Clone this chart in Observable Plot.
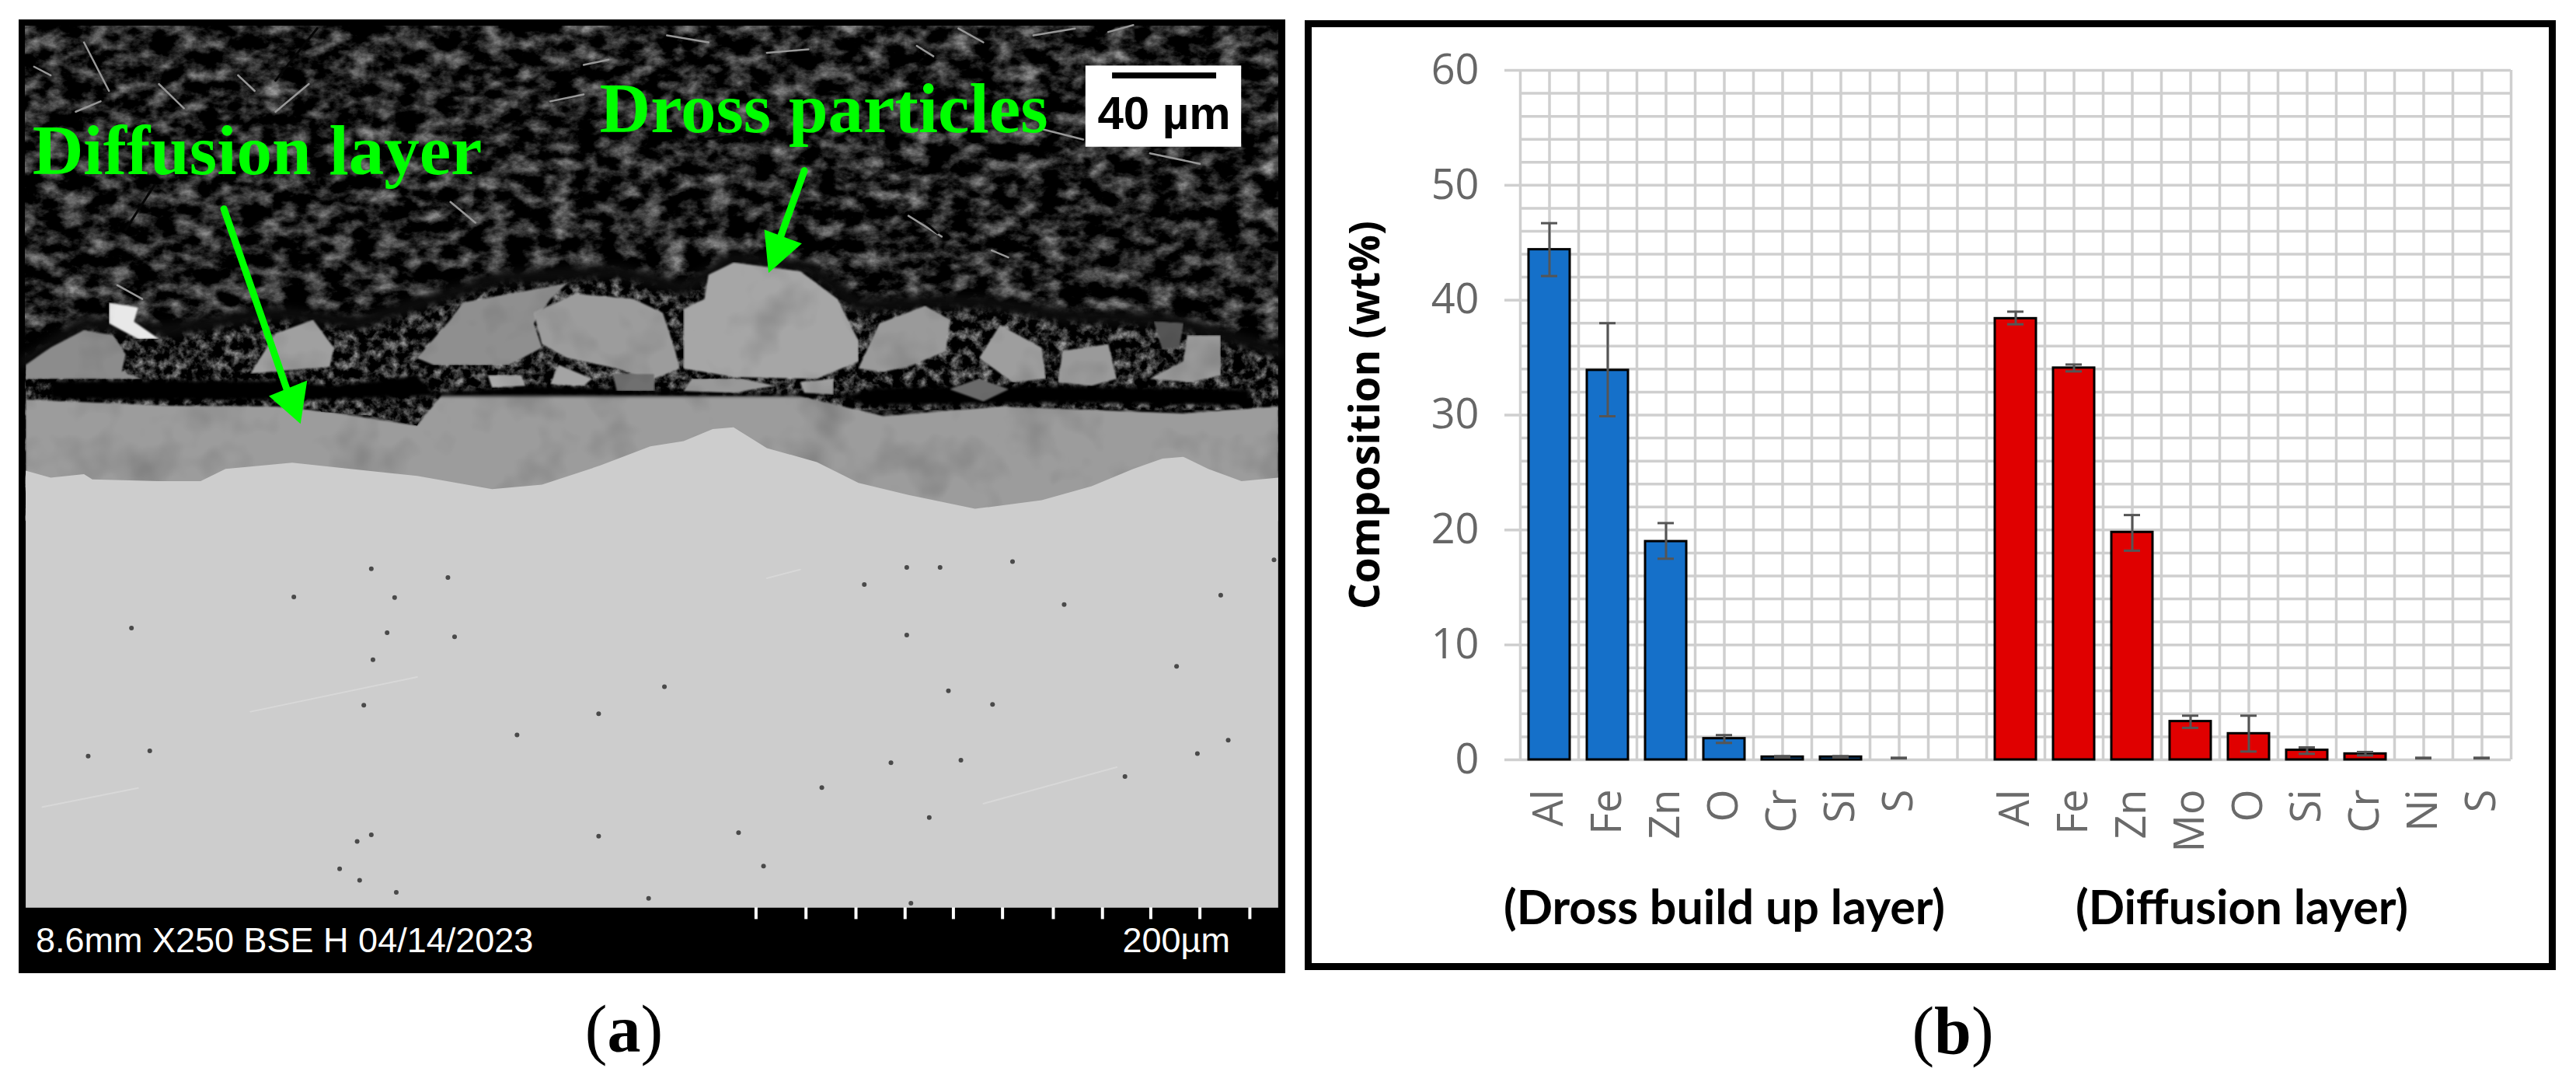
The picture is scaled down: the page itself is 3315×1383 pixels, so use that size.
<!DOCTYPE html>
<html>
<head>
<meta charset="utf-8">
<script src="https://cdn.jsdelivr.net/npm/d3@7"></script>
<script src="https://cdn.jsdelivr.net/npm/@observablehq/plot@0.6"></script>
<style>
html,body{margin:0;padding:0;background:#fff;width:3315px;height:1383px;overflow:hidden}
#page{position:relative;width:3315px;height:1383px}
#a,#b,#frameB,.cap{position:absolute}
#a{left:24px;top:25px}
#b{left:1679px;top:26px}
#frameB{left:1679px;top:26px;width:1610px;height:1222px;box-sizing:border-box;border:9px solid #000;pointer-events:none}
.cap{font-family:"Liberation Serif",serif;font-size:86px;line-height:1;color:#000;transform:translateX(-50%)}
</style>
</head>
<body>
<svg width="0" height="0" style="position:absolute">
  <filter id="resinGrain" x="0" y="0" width="100%" height="100%" color-interpolation-filters="sRGB">
    <feTurbulence type="fractalNoise" baseFrequency="0.035 0.05" numOctaves="5" seed="11"/>
    <feColorMatrix values="1.15 0 0 0 -0.46  1.15 0 0 0 -0.46  1.15 0 0 0 -0.46  0 0 0 0 1"/>
  </filter>
  <filter id="mottle" x="0" y="0" width="100%" height="100%" color-interpolation-filters="sRGB">
    <feTurbulence type="fractalNoise" baseFrequency="0.08" numOctaves="4" seed="5"/>
    <feColorMatrix values="1.3 0 0 0 -0.52  1.3 0 0 0 -0.52  1.3 0 0 0 -0.52  0 0 0 0 1"/>
    <feComposite in2="SourceAlpha" operator="in"/>
  </filter>
  <filter id="shade" x="0" y="0" width="100%" height="100%" color-interpolation-filters="sRGB">
    <feTurbulence type="fractalNoise" baseFrequency="0.015" numOctaves="3" seed="3" result="n"/>
    <feColorMatrix in="n" values="0.4 0 0 0 0.8  0.4 0 0 0 0.8  0.4 0 0 0 0.8  0 0 0 0 1" result="g"/>
    <feBlend in="SourceGraphic" in2="g" mode="multiply" result="m"/>
    <feComposite in="m" in2="SourceAlpha" operator="in"/>
    <feGaussianBlur stdDeviation="1.2"/>
  </filter>
</svg>
<div id="page">
  <div id="a"></div>
  <div id="b"></div>
  <div id="frameB"></div>
  <div class="cap" style="left:803px;top:1281px">(<b>a</b>)</div>
  <div class="cap" style="left:2513px;top:1283px">(<b>b</b>)</div>
</div>
<script>
// ---------- Panel (b): composition data ----------
const drossElements = ["Al","Fe","Zn","O","Cr","Si","S"];
const drossValues   = [44.4,33.9,19.0,1.85,0.25,0.25,0.03];
const drossHigh     = [46.7,38.0,20.6,2.15,0.32,0.32,0.18];
const drossLow      = [42.1,29.9,17.5,1.47,0.20,0.20,0.12];

const diffusionElements = ["Al","Fe","Zn","Mo","O","Si","Cr","Ni","S"];
const diffusionValues   = [38.4,34.1,19.8,3.34,2.28,0.84,0.52,0.03,0.03];
const diffusionHigh     = [39.0,34.4,21.3,3.84,3.84,1.08,0.68,0.18,0.18];
const diffusionLow      = [37.9,33.8,18.2,2.78,0.72,0.52,0.38,0.12,0.12];

const rows = [
  ...drossElements.map((e,i)=>({key:"D:"+e,layer:"dross",v:drossValues[i],hi:drossHigh[i],lo:drossLow[i]})),
  ...diffusionElements.map((e,i)=>({key:"F:"+e,layer:"diffusion",v:diffusionValues[i],hi:diffusionHigh[i],lo:diffusionLow[i]}))
];
const keys = [...drossElements.map(e=>"D:"+e),"gap:",...diffusionElements.map(e=>"F:"+e)];
const yMajor = d3.range(0,61,10);
const yMinor = d3.range(0,61,2);
const gridColor = "#cfcfcf";
const groupDross = [{key:"D:O",text:"(Dross build up layer)"}];
const groupDiffusion = [{key:"F:O",text:"(Diffusion layer)"}];

const chartB = Plot.plot({
  width:1610,height:1222,
  marginLeft:277,marginRight:58,marginTop:64,marginBottom:271,
  style:{background:"none",fontFamily:"'Open Sans',sans-serif"},
  x:{type:"band",domain:keys,paddingInner:0.29,paddingOuter:0.145,axis:null},
  y:{domain:[0,60],axis:null},
  color:{domain:["dross","diffusion"],range:["#1570c9","#e00000"]},
  marks:[
    Plot.ruleY(yMinor,{stroke:gridColor,strokeWidth:3.5}),
    Plot.ruleX(keys,{stroke:gridColor,strokeWidth:3.5}),
    Plot.ruleX(keys,{dx:-37.5,stroke:gridColor,strokeWidth:3.5}),
    Plot.ruleX(keys.slice(-1),{dx:37.5,stroke:gridColor,strokeWidth:3.5}),
    Plot.axisY({ticks:yMajor,tickSize:20,tickPadding:33,fontSize:54,fill:"#666",stroke:gridColor,strokeWidth:3.5,label:null}),
    Plot.axisX({domain:keys,tickSize:0,tickPadding:38,tickRotate:-90,fontSize:54,fill:"#6a6a6a",label:null,tickFormat:d=>d.split(":")[1]}),
    Plot.barY(rows.filter(d=>d.v>=0.1),{x:"key",y:"v",fill:"layer",stroke:"#000",strokeWidth:3}),
    Plot.ruleX(rows,{x:"key",y1:"lo",y2:"hi",stroke:"#555",strokeWidth:3}),
    Plot.tickY(rows,{x:"key",y:"hi",stroke:"#555",strokeWidth:3,insetLeft:16,insetRight:16}),
    Plot.tickY(rows,{x:"key",y:"lo",stroke:"#555",strokeWidth:3,insetLeft:16,insetRight:16}),
    Plot.text(groupDross,{x:"key",y:-14.3,text:"text",lineAnchor:"bottom",fontSize:61,fontWeight:700,fontFamily:"Lato",fill:"#000"}),
    Plot.text(groupDiffusion,{x:"key",y:-14.3,text:"text",dx:-9,lineAnchor:"bottom",fontSize:61,fontWeight:700,fontFamily:"Lato",fill:"#000"}),
    Plot.text(["Composition (wt%)"],{y:30,frameAnchor:"left",dx:-198,rotate:-90,fontSize:53,fontWeight:700,fill:"#000",textAnchor:"middle"})
  ]
});
document.getElementById("b").append(chartB);

// ---------- Panel (a): micrograph ----------
// coordinates: picture units across the frame, x 22..1543, y 55..2805
const imageBox = {x1:30,x2:1534,y1:73};
const haloTop = [[30,1040],[100,930],[200,950],[330,900],[430,930],[520,860],[600,800],[740,780],[820,830],[880,745],[970,770],[1030,880],[1110,870],[1180,870],[1280,910],[1400,920],[1534,1010],[1534,1180],[30,1180]];
const haloEdge = haloTop.slice(0,-2);
const gapBand = [[60,1095],[330,1095],[400,1110],[500,1080],[520,1130],[640,1110],[860,1130],[1020,1135],[1050,1115],[1250,1110],[1500,1120],[1500,1168],[1290,1158],[1040,1168],[1010,1140],[860,1140],[530,1140],[370,1150],[200,1152],[60,1148]];
const diffusionTop = [[30,1150],[200,1168],[330,1170],[400,1188],[500,1225],[530,1135],[620,1132],[860,1138],[960,1140],[1020,1175],[1060,1198],[1200,1170],[1420,1190],[1534,1170],[1534,1500],[30,1500]];
const crumbledPatch = [[370,1150],[520,1130],[500,1225],[440,1195],[385,1185]];
const substrateTop = [[30,1355],[60,1375],[100,1365],[110,1380],[190,1385],[240,1385],[270,1350],[350,1332],[420,1350],[500,1370],[590,1408],[650,1395],[720,1340],[780,1285],[820,1270],[855,1235],[880,1230],[920,1290],[980,1330],[1030,1390],[1090,1425],[1170,1465],[1250,1440],[1310,1400],[1360,1350],[1395,1320],[1420,1315],[1450,1350],[1490,1385],[1534,1375],[1534,2615],[30,2615]];
const particles = [
  {fill:"#8c8c8c",pts:[[60,1000],[100,950],[135,965],[150,1020],[145,1070],[170,1090],[30,1090],[30,1050]]},
  {fill:"#a0a0a0",pts:[[300,1075],[330,960],[375,920],[400,1000],[395,1055]]},
  {fill:"#8f8f8f",pts:[[500,1030],[540,920],[555,870],[680,815],[660,860],[640,930],[650,1000],[610,1050],[520,1050]]},
  {fill:"#9c9c9c",pts:[[640,900],[690,845],[760,860],[795,900],[810,1010],[815,1060],[780,1095],[740,1060],[680,1030],[650,990]]},
  {fill:"#a6a6a6",pts:[[820,1060],[820,890],[845,860],[850,790],[880,755],[960,780],[1005,860],[1030,980],[1030,1040],[980,1090],[880,1085]]},
  {fill:"#9a9a9a",pts:[[1030,1060],[1055,930],[1110,880],[1140,920],[1135,1010],[1095,1050],[1060,1070]]},
  {fill:"#9e9e9e",pts:[[1175,1030],[1200,935],[1250,1000],[1255,1090],[1215,1100]]},
  {fill:"#9a9a9a",pts:[[1270,1100],[1275,1010],[1330,990],[1340,1090],[1310,1110]]},
  {fill:"#9a9a9a",pts:[[1380,1090],[1420,1040],[1425,965],[1465,965],[1465,1080],[1430,1100]]},
  {fill:"#6a6a6a",pts:[[1140,1120],[1175,1090],[1210,1120],[1180,1155]]},
  {fill:"#a4a4a4",pts:[[670,1050],[710,1090],[700,1110],[660,1105]]},
  {fill:"#aaaaaa",pts:[[585,1080],[625,1080],[630,1110],[590,1115]]},
  {fill:"#707070",pts:[[735,1075],[785,1075],[785,1125],[740,1125]]},
  {fill:"#999999",pts:[[830,1090],[890,1090],[930,1110],[880,1130],[820,1125]]},
  {fill:"#aaaaaa",pts:[[960,1100],[1000,1090],[1000,1135],[965,1130]]},
  {fill:"#555555",pts:[[1385,925],[1420,930],[1415,1000],[1395,1005]]},
  {fill:"#e8e8e8",pts:[[130,870],[165,885],[160,925],[190,975],[165,975],[145,950],[130,930]]}
];
const brightStreaks = [[330,320,370,240],[190,240,220,310],[90,320,120,290],[40,190,60,215],[100,120,130,260],[700,185,730,170],[800,100,850,120],[920,150,970,140],[1150,80,1180,120],[1240,100,1290,80],[1330,90,1360,70],[1100,130,1120,160],[285,215,305,260],[1250,370,1300,400],[1380,440,1440,470],[1190,720,1210,740],[140,820,170,860],[540,580,570,640],[660,290,700,270],[1090,620,1130,680]];
const darkCracks = [[330,230,380,80],[150,660,185,530],[840,400,900,385],[1110,640,1125,670]];
const scratches = [[50,2325,165,2270],[1180,2315,1340,2210],[920,1665,960,1640],[300,2050,500,1950]];
const poresX = [445,537,473,464,545,447,436,718,797,105,179,1037,1128,1088,1465,1277,1088,1138,1474,1437,1153,1350,986,1115,718,428,445,886,916,1093,778,1191,1412,620,1069,1529,431,475,407,352,157,1215];
const poresY = [1638,1663,1721,1822,1834,1900,2031,2056,1978,2178,2163,1683,1634,1634,1714,1741,1829,1990,2132,2171,2190,2237,2269,2355,2409,2424,2405,2399,2495,2602,2588,2029,1919,2117,2197,1612,2536,2571,2503,1719,1809,1617];
const scaleTicks = [907,967,1027,1086,1144,1203,1264,1323,1381,1440,1500];
const annotations = [
  {x:38,y:500,text:"Diffusion layer"},
  {x:719,y:378,text:"Dross particles"}
];
const arrowShafts = [[268,600,345,1130],[965,490,935,690]];
const arrowHeads = [[[322,1140],[368,1095],[360,1220]],[[917,660],[962,700],[922,785]]];
const footer = [
  {x:42,text:"8.6mm X250 BSE H 04/14/2023"},
  {x:1347,text:"200µm"}
];
const poly = (pts,fill,opts={})=>Plot.line(pts,{x:d=>d[0],y:d=>d[1],fill,stroke:"none",curve:"linear-closed",...opts});
const segs = (list,stroke,strokeWidth)=>Plot.link(list,{x1:d=>d[0],y1:d=>d[1],x2:d=>d[2],y2:d=>d[3],stroke,strokeWidth,strokeLinecap:"round"});
const sans = "'Liberation Sans',Arial,sans-serif";

const chartA = Plot.plot({
  width:1630,height:1227,
  marginLeft:0,marginRight:0,marginTop:0,marginBottom:0,
  style:{background:"none"},
  x:{domain:[22,1543],range:[0,1630],axis:null},
  y:{domain:[55,2805],range:[0,1227],axis:null},
  marks:[
    Plot.rect([0],{x1:22,x2:1543,y1:55,y2:2805,fill:"#000"}),
    Plot.rect([0],{x1:imageBox.x1,x2:imageBox.x2,y1:imageBox.y1,y2:1500,fill:"#222",imageFilter:"url(#resinGrain)"}),
    segs(brightStreaks,"#989898",2.5),
    segs(darkCracks,"#050505",3),
    poly(haloTop,"#1c1c1c",{imageFilter:"url(#mottle)"}),
    Plot.line(haloEdge,{x:d=>d[0],y:d=>d[1],stroke:"#0c0c0c",strokeWidth:18,imageFilter:"blur(5px)"}),
    poly(diffusionTop,"#9c9c9c",{imageFilter:"url(#shade)"}),
    poly(crumbledPatch,"#333",{imageFilter:"url(#mottle)"}),
    poly(gapBand,"#000",{imageFilter:"blur(2px)"}),
    poly(substrateTop,"#cdcdcd"),
    ...particles.map(p=>poly(p.pts,p.fill,{imageFilter:"url(#shade)"})),
    segs(scratches,"#d8d8d8",2),
    Plot.dot(poresX.map((x,i)=>[x,poresY[i]]),{x:d=>d[0],y:d=>d[1],r:3,fill:"#4a4a4a"}),
    // scale box
    Plot.rect([0],{x1:1303,x2:1490,y1:188,y2:422,fill:"#fff"}),
    Plot.rect([0],{x1:1335,x2:1460,y1:208,y2:225,fill:"#000"}),
    Plot.text(["40 µm"],{x:1397,y:370,lineAnchor:"bottom",fontSize:60,fontWeight:700,fontFamily:sans,fill:"#000"}),
    // green annotations
    Plot.text(annotations,{x:"x",y:"y",text:"text",textAnchor:"start",lineAnchor:"bottom",fontSize:91,fontWeight:700,fontFamily:"'Liberation Serif',serif",fill:"#00ff00"}),
    segs(arrowShafts,"#00ff00",9),
    ...arrowHeads.map(h=>poly(h,"#00ff00")),
    // SEM footer
    Plot.ruleX(scaleTicks,{y1:2615,y2:2649,stroke:"#fff",strokeWidth:4}),
    Plot.text(footer,{x:"x",y:2744,text:"text",textAnchor:"start",lineAnchor:"bottom",fontSize:45,fontFamily:sans,fill:"#fff"})
  ]
});
document.getElementById("a").append(chartA);
</script>
</body>
</html>
